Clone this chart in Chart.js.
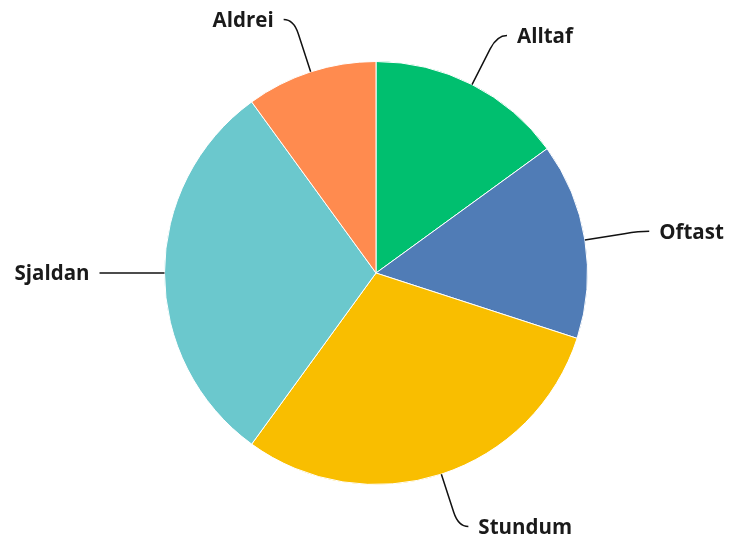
<!DOCTYPE html>
<html>
<head>
<meta charset="utf-8">
<script src="https://cdn.jsdelivr.net/npm/chart.js@4"></script>
<style>
html,body{margin:0;padding:0;background:#fff;}
#wrap{width:729px;height:541px;}
</style>
</head>
<body>
<div id="wrap"><canvas id="c" width="729" height="541"></canvas></div>
<script>
const categories = ["Alltaf", "Oftast", "Stundum", "Sjaldan", "Aldrei"];
const values = [15, 15, 30, 30, 10];
const colors = ["#00BF6F", "#507CB6", "#F9BE00", "#6BC8CD", "#FF8B4F"];

const labelPlugin = {
  id: 'leaderLabels',
  afterDatasetsDraw(chart) {
    const ctx = chart.ctx;
    const meta = chart.getDatasetMeta(0);
    ctx.save();
    meta.data.forEach((arc, i) => {
      const p = arc.getProps(['x','y','startAngle','endAngle','outerRadius'], true);
      const m = (p.startAngle + p.endAngle) / 2;
      const r = p.outerRadius;
      const c = Math.cos(m), s = Math.sin(m);
      const dir = c < -0.0001 ? -1 : 1;
      const ex = p.x + r * c, ey = p.y + r * s;
      const ax = p.x + (r + 40) * c, ay = p.y + (r + 40) * s;
      const bx = p.x + (r + 55) * c, by = p.y + (r + 55) * s;
      const endX = bx + dir * 10, endY = by;
      ctx.beginPath();
      ctx.strokeStyle = '#111';
      ctx.lineWidth = 1.5;
      ctx.moveTo(ex, ey);
      ctx.lineTo(ax, ay);
      ctx.quadraticCurveTo(bx, by, endX, endY);
      ctx.stroke();
      ctx.fillStyle = '#1a1a1a';
      ctx.font = '700 20.5px "Open Sans", sans-serif';
      ctx.textBaseline = 'middle';
      ctx.textAlign = dir > 0 ? 'left' : 'right';
      ctx.fillText(chart.data.labels[i], endX + dir * 10, endY + 1.5);
    });
    ctx.restore();
  }
};

new Chart(document.getElementById('c'), {
  type: 'pie',
  data: {
    labels: categories,
    datasets: [{
      data: values,
      backgroundColor: colors,
      borderColor: '#ffffff',
      borderWidth: 1
    }]
  },
  options: {
    responsive: false,
    animation: false,
    layout: { padding: { left: 164, right: 141, top: 61, bottom: 56 } },
    plugins: { legend: { display: false }, tooltip: { enabled: false } }
  },
  plugins: [labelPlugin]
});
</script>
</body>
</html>
